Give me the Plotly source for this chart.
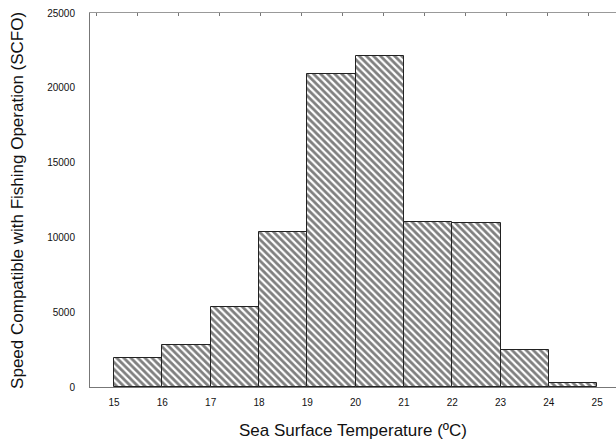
import plotly.graph_objects as go

bin_starts = [15, 16, 17, 18, 19, 20, 21, 22, 23, 24]
scfo_values = [1950, 2800, 5350, 10350, 20900, 22100, 11000, 10950, 2450, 250]
x_ticks = [15, 16, 17, 18, 19, 20, 21, 22, 23, 24, 25]
y_ticks = [0, 5000, 10000, 15000, 20000, 25000]

fig = go.Figure()
fig.add_trace(go.Bar(
    x=[b + 0.5 for b in bin_starts],
    y=scfo_values,
    width=1.0,
    marker=dict(
        color="white",
        line=dict(color="#222222", width=1),
        pattern=dict(shape="\\", fgcolor="#000000", bgcolor="white", size=5, solidity=0.55),
    ),
    showlegend=False,
))
# invisible trace to activate top tick axis
fig.add_trace(go.Scatter(x=[None], y=[None], xaxis="x2", showlegend=False))

fig.update_layout(
    width=616, height=444,
    margin=dict(l=90, r=0, t=13, b=57, autoexpand=False),
    paper_bgcolor="white", plot_bgcolor="white",
    font=dict(family="Liberation Sans, Arial, sans-serif", color="#111111"),
    bargap=0,
    xaxis=dict(
        range=[14.503, 25.39], tickvals=x_ticks, ticktext=[str(t) for t in x_ticks],
        showgrid=False, zeroline=False, showline=True, linecolor="#777777", linewidth=1,
        ticks="", tickfont=dict(size=10), ticklabelstandoff=6, automargin=False,
    ),
    xaxis2=dict(
        overlaying="x", side="top", range=[-0.17, 12.66], dtick=1,
        showgrid=False, zeroline=False, showline=True, linecolor="#999999", linewidth=1,
        ticks="inside", ticklen=3, tickcolor="#777777", showticklabels=False, automargin=False,
    ),
    yaxis=dict(
        range=[0, 25000], tickvals=y_ticks, ticktext=[str(t) for t in y_ticks],
        showgrid=False, zeroline=False, showline=True, linecolor="#777777", linewidth=1,
        ticks="", tickfont=dict(size=10), ticklabelstandoff=12, automargin=False,
    ),
    annotations=[
        dict(text="Sea Surface Temperature (ºC)", xref="paper", yref="paper",
             x=0.5, y=-0.115, xanchor="center", yanchor="middle", showarrow=False,
             font=dict(size=17)),
        dict(text="Speed Compatible with Fishing Operation (SCFO)", xref="paper", yref="paper",
             x=-0.139, y=0.5, xanchor="center", yanchor="middle", showarrow=False,
             textangle=-90, font=dict(size=17)),
    ],
)

fig.write_html("out.html", config={"displayModeBar": False},
               post_script="document.body.style.margin='0';")
